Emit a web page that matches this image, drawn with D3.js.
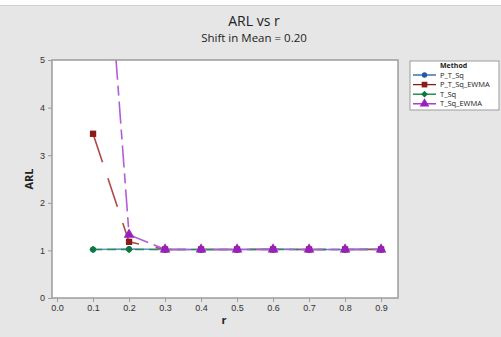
<!DOCTYPE html>
<html lang="en">
<head>
  <meta charset="utf-8" />
  <title>ARL vs r</title>
  <style>
    body {
      margin: 0;
      font-family: "Open Sans", sans-serif;
      background: #e6e6e6;
    }
    text { fill: #222; }
    .axis path, .axis line { stroke: #9c9c9c; }
    .axis text { font-size: 9px; fill: #333; }
  </style>
</head>
<body>
  <div id="graphic"></div>
  <script src="https://cdn.jsdelivr.net/npm/d3@7"></script>
  <script>
    // data
    var rValues = [0.1, 0.2, 0.3, 0.4, 0.5, 0.6, 0.7, 0.8, 0.9];
    var pTSq = [1.02, 1.03, 1.02, 1.02, 1.02, 1.03, 1.02, 1.02, 1.03];
    var pTSqEwma = [3.45, 1.18, 1.02, 1.02, 1.02, 1.02, 1.02, 1.02, 1.02];
    var tSq = [1.02, 1.02, 1.02, 1.02, 1.02, 1.02, 1.02, 1.02, 1.02];
    var tSqEwma = [11.5, 1.33, 1.02, 1.02, 1.02, 1.02, 1.02, 1.02, 1.02];
    var xTicks = [0.0, 0.1, 0.2, 0.3, 0.4, 0.5, 0.6, 0.7, 0.8, 0.9];
    var yTicks = [0, 1, 2, 3, 4, 5];

    var series = [
      { name: "P_T_Sq", values: pTSq, colour: "#1f5aa6", line: "#5b8fd0", dash: null, symbol: d3.symbolCircle, size: 28 },
      { name: "P_T_Sq_EWMA", values: pTSqEwma, colour: "#8b1a1a", line: "#b04848", dash: "30,17", symbol: d3.symbolSquare, size: 40 },
      { name: "T_Sq", values: tSq, colour: "#0a7a3a", line: "#2e8b57", dash: "9,5", symbol: d3.symbolDiamond2, size: 36 },
      { name: "T_Sq_EWMA", values: tSqEwma, colour: "#9b1fc0", line: "#b25cd6", dash: "22,6,10,6", symbol: d3.symbolTriangle, size: 50 }
    ];

    var width = 501, height = 337;
    var margin = { left: 52, top: 60, right: 103, bottom: 39 };
    var plotW = width - margin.left - margin.right;
    var plotH = height - margin.top - margin.bottom;

    var svg = d3.select("#graphic").append("svg")
      .attr("width", width)
      .attr("height", height);

    svg.append("rect").attr("width", width).attr("height", height).attr("fill", "#e6e6e6");
    svg.append("rect").attr("width", width).attr("height", 5).attr("fill", "#fff");
    svg.append("line").attr("x1", 0).attr("x2", width).attr("y1", 5.5).attr("y2", 5.5).attr("stroke", "#cfcfcf");

    var x = d3.scaleLinear().domain([-0.014, 0.947]).range([0, plotW]);
    var y = d3.scaleLinear().domain([0, 5]).range([plotH, 0]);

    var g = svg.append("g").attr("transform", "translate(" + margin.left + "," + margin.top + ")");

    g.append("rect").attr("width", plotW).attr("height", plotH).attr("fill", "#fff");

    g.append("clipPath").attr("id", "clip")
      .append("rect").attr("width", plotW).attr("height", plotH);

    var line = d3.line()
      .x(function(d, i) { return x(rValues[i]); })
      .y(function(d) { return y(d); });

    var plot = g.append("g").attr("clip-path", "url(#clip)");

    series.forEach(function(s) {
      plot.append("path")
        .attr("d", line(s.values))
        .attr("fill", "none")
        .attr("stroke", s.line)
        .attr("stroke-width", 1.6)
        .attr("stroke-dasharray", s.dash);
    });

    series.forEach(function(s) {
      plot.selectAll(null)
        .data(s.values)
        .enter().append("path")
        .attr("d", d3.symbol().type(s.symbol).size(s.size))
        .attr("transform", function(d, i) { return "translate(" + x(rValues[i]) + "," + y(d) + ")"; })
        .attr("fill", s.colour);
    });

    // frame
    g.append("rect").attr("width", plotW).attr("height", plotH)
      .attr("fill", "none").attr("stroke", "#9c9c9c").attr("stroke-width", 1.5);

    g.append("g").attr("class", "x axis")
      .attr("transform", "translate(0," + plotH + ")")
      .call(d3.axisBottom(x).tickValues(xTicks).tickSize(4).tickFormat(d3.format(".1f")))
      .call(function(a) { a.select(".domain").remove(); });

    g.append("g").attr("class", "y axis")
      .call(d3.axisLeft(y).tickValues(yTicks).tickSize(4).tickFormat(d3.format("d")))
      .call(function(a) { a.select(".domain").remove(); });

    // titles
    svg.append("text").attr("x", 254).attr("y", 26).attr("text-anchor", "middle")
      .style("font-size", "14px").text("ARL vs r");
    svg.append("text").attr("x", 254).attr("y", 42).attr("text-anchor", "middle")
      .style("font-size", "11.5px").text("Shift in Mean = 0.20");

    svg.append("text").attr("x", margin.left + plotW / 2 - 1).attr("y", 324).attr("text-anchor", "middle")
      .style("font-size", "11px").style("font-weight", 700).text("r");
    svg.append("text").attr("transform", "translate(33," + (margin.top + plotH / 2) + ") rotate(-90)")
      .attr("text-anchor", "middle")
      .style("font-size", "11px").style("font-weight", 700).text("ARL");

    // legend
    var key = svg.append("g").attr("transform", "translate(410,61)");
    key.append("rect").attr("width", 89).attr("height", 49)
      .attr("fill", "#fff").attr("stroke", "#9c9c9c");
    key.append("text").attr("x", 30).attr("y", 7).style("font-size", "7px")
      .style("font-weight", 700).text("Method");
    series.forEach(function(s, i) {
      var row = key.append("g").attr("transform", "translate(0," + (14 + i * 9.6) + ")");
      row.append("line").attr("x1", 3).attr("x2", 26)
        .attr("stroke", s.colour).attr("stroke-width", 1.3);
      row.append("path")
        .attr("d", d3.symbol().type(s.symbol).size(s.size * 0.8))
        .attr("transform", "translate(14.5,0)")
        .attr("fill", s.colour);
      row.append("text").attr("x", 30).attr("y", 2.5).style("font-size", "7.5px").text(s.name);
    });
  </script>
</body>
</html>
